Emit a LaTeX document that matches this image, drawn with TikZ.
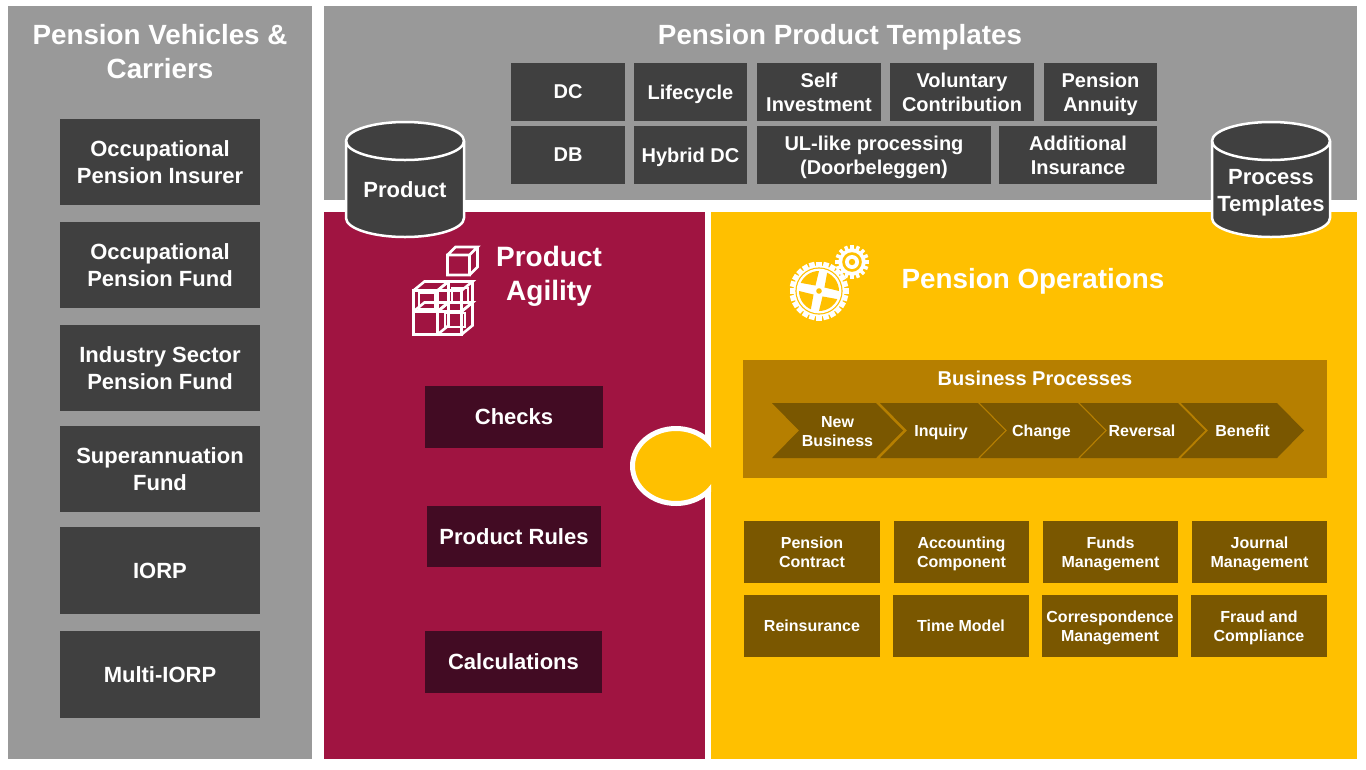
\documentclass[tikz,border=0pt]{standalone}
\usepackage{fontspec}
\setmainfont{Liberation Sans}
\definecolor{panelgray}{HTML}{999999}
\definecolor{boxgray}{HTML}{404040}
\definecolor{crimson}{HTML}{A01441}
\definecolor{crimsondark}{HTML}{420B23}
\definecolor{opsyellow}{HTML}{FFC000}
\definecolor{bandbrown}{HTML}{B67F00}
\definecolor{boxbrown}{HTML}{7A5700}
\tikzset{
  txt/.style 2 args={text=white, align=center, inner sep=0pt, text depth=0pt, font=\bfseries\fontsize{#1}{#2}\selectfont},
  vehbox/.style={fill=boxgray, minimum width=200pt, txt={22}{27}, text depth=-2pt},
  tmplbox/.style={fill=boxgray, minimum height=58pt, txt={20}{24}},
  agilebox/.style={fill=crimsondark, txt={22}{27}, text depth=-2pt},
  opsbox/.style={fill=boxbrown, minimum height=62pt, txt={16}{19}},
  cubeline/.style={white, line width=2.6pt, line join=miter},
  pics/tank/.style={code={
    \draw[white, line width=2.5pt, fill=boxgray] (-59,-96) -- (-59,-19)
      arc[start angle=180, end angle=360, x radius=59, y radius=-19] -- (59,-96)
      arc[start angle=0, end angle=180, x radius=59, y radius=-19] -- cycle;
    \draw[white, line width=2.5pt] (-59,-96) arc[start angle=180, end angle=360, x radius=59, y radius=-19];
  }},
  pics/cube/.style args={#1/#2/#3/#4}{code={
    \draw[cubeline]
      (0,0) rectangle (#1,-#2)
      (0,-#2) -- (#3,-#2-#4) -- (#1+#3,-#2-#4) -- (#1,-#2)
      (#1+#3,-#2-#4) -- (#1+#3,-#4) -- (#1,0);
  }}
}
\begin{document}
\begin{tikzpicture}[x=1pt, y=-1pt]
  \useasboundingbox (0,0) rectangle (1366,769);

  % 1. panels
  \fill[panelgray] (8,6) rectangle (312,759);
  \fill[panelgray] (324,6) rectangle (1357,200);
  \fill[crimson] (324,212) rectangle (705,759);
  \fill[opsyellow] (711,212) rectangle (1357,759);

  % 2. vehicles and carriers
  \node[txt={27.8}{34}] (vehtitle) at (160,51) {Pension Vehicles \&\\Carriers};
  \node[vehbox, minimum height=86pt] (insurer) at (160,162) {Occupational\\Pension Insurer};
  \node[vehbox, minimum height=86pt] (fund) at (160,265) {Occupational\\Pension Fund};
  \node[vehbox, minimum height=86pt] (sector) at (160,368) {Industry Sector\\Pension Fund};
  \node[vehbox, minimum height=86pt] (super) at (160,469) {Superannuation\\Fund};
  \node[vehbox, minimum height=87pt] (iorp) at (160,570.5) {IORP};
  \node[vehbox, minimum height=87pt] (multi) at (160,674.5) {Multi-IORP};

  % 3. product templates
  \node[txt={27.8}{34}] (tmpltitle) at (840,34) {Pension Product Templates};
  \node[tmplbox, minimum width=114pt] (dc) at (568,92) {DC};
  \node[tmplbox, minimum width=113pt] (lifecycle) at (690.5,92) {Lifecycle};
  \node[tmplbox, minimum width=124pt] (self) at (819,92) {Self\\Investment};
  \node[tmplbox, minimum width=144pt] (voluntary) at (962,92) {Voluntary\\Contribution};
  \node[tmplbox, minimum width=113pt] (annuity) at (1100.5,92) {Pension\\Annuity};
  \node[tmplbox, minimum width=114pt] (db) at (568,155) {DB};
  \node[tmplbox, minimum width=113pt] (hybrid) at (690.5,155) {Hybrid DC};
  \node[tmplbox, minimum width=234pt] (ul) at (874,155) {UL-like processing\\(Doorbeleggen)};
  \node[tmplbox, minimum width=158pt] (additional) at (1078,155) {Additional\\Insurance};

  % 4. cylinders
  \pic at (405,237) {tank};
  \pic at (1271,237) {tank};
  \node[txt={22}{27}] (product) at (405,190) {Product};
  \node[txt={22}{27}] (process) at (1271,190) {Process\\Templates};

  % 5. product agility
  \node[txt={28}{34}] (agility) at (549,273) {Product\\Agility};
  \pic at (447.5,275) {cube={22/20/8/8}};
  \pic at (413.5,334.5) {cube={24/23/11/9}};
  \pic at (437.5,334.5) {cube={24/23/11/9}};
  \pic at (413.5,311.5) {cube={24/21/11/9}};
  \pic at (437.5,311.5) {cube={24/21/11/9}};
  \draw[cubeline] (419,293) rectangle (435,309);
  \draw[cubeline] (452,288) rectangle (468,302);
  \draw[cubeline] (445,313) rectangle (465,327);
  \node[agilebox, minimum width=178pt, minimum height=62pt] (checks) at (514,417) {Checks};
  \node[agilebox, minimum width=174pt, minimum height=61pt] (rules) at (514,536.5) {Product Rules};
  \node[agilebox, minimum width=177pt, minimum height=62pt] (calc) at (513.5,662) {Calculations};

  % 6. puzzle tab
  \begin{scope}
    \clip (600,400) rectangle (711,530);
    \draw[white, line width=5pt, fill=opsyellow] (676,466) ellipse[x radius=43.5, y radius=37.5];
  \end{scope}

  % 7. gears
  \foreach \a in {0,15,...,345}
    \fill[white, rotate around={\a:(819,291)}] (816.2,261.5) rectangle (821.8,270);
  \fill[white] (819,291) circle (25.5);
  \fill[opsyellow] (819,291) circle (23.6);
  \fill[white] (819,291) circle (22.4);
  \begin{scope}[shift={(819,291)}]
    \foreach \a in {57,147,237,327}
      \fill[opsyellow] (\a:6.5) -- (\a-33:20) arc[start angle=\a-33, end angle=\a+33, radius=20] -- cycle;
    \fill[opsyellow] (0,0) circle (2.8);
  \end{scope}
  \foreach \a in {0,22.5,...,337.5}
    \fill[white, rotate around={\a:(852,262)}] (850.3,245) rectangle (853.7,252);
  \fill[white] (852,262) circle (13.5);
  \fill[opsyellow] (852,262) circle (9.8);
  \fill[white] (852,262) circle (7);
  \fill[opsyellow] (852,262) circle (3.2);
  \node[txt={27.8}{34}] (opstitle) at (1033,278) {Pension Operations};

  % 8. business processes
  \fill[bandbrown] (743,360) rectangle (1327,478);
  \node[txt={20}{23}] (bptitle) at (1035,378) {Business Processes};
  \foreach \xl/\xr in {772/876,880/978,980/1078,1080/1178,1181/1277}
    \fill[boxbrown] (\xl,403) -- (\xr,403) -- (\xr+27,430.5) -- (\xr,458) -- (\xl,458) -- (\xl+27,430.5) -- cycle;
  \node[txt={16}{19}] (newbiz) at (837.5,431) {New\\Business};
  \node[txt={16}{19}] (inquiry) at (941,430.5) {Inquiry};
  \node[txt={16}{19}] (change) at (1041.5,430.5) {Change};
  \node[txt={16}{19}] (reversal) at (1142,430.5) {Reversal};
  \node[txt={16}{19}] (benefit) at (1242.5,430.5) {Benefit};

  % 9. modules
  \node[opsbox, minimum width=136pt] (contract) at (812,552) {Pension\\Contract};
  \node[opsbox, minimum width=135pt] (accounting) at (961.5,552) {Accounting\\Component};
  \node[opsbox, minimum width=135pt] (funds) at (1110.5,552) {Funds\\Management};
  \node[opsbox, minimum width=135pt] (journal) at (1259.5,552) {Journal\\Management};
  \node[opsbox, minimum width=136pt] (reins) at (812,626) {Reinsurance};
  \node[opsbox, minimum width=136pt] (time) at (961,626) {Time Model};
  \node[opsbox, minimum width=136pt] (corr) at (1110,626) {Correspondence\\Management};
  \node[opsbox, minimum width=136pt] (fraud) at (1259,626) {Fraud and\\Compliance};
\end{tikzpicture}
\end{document}
